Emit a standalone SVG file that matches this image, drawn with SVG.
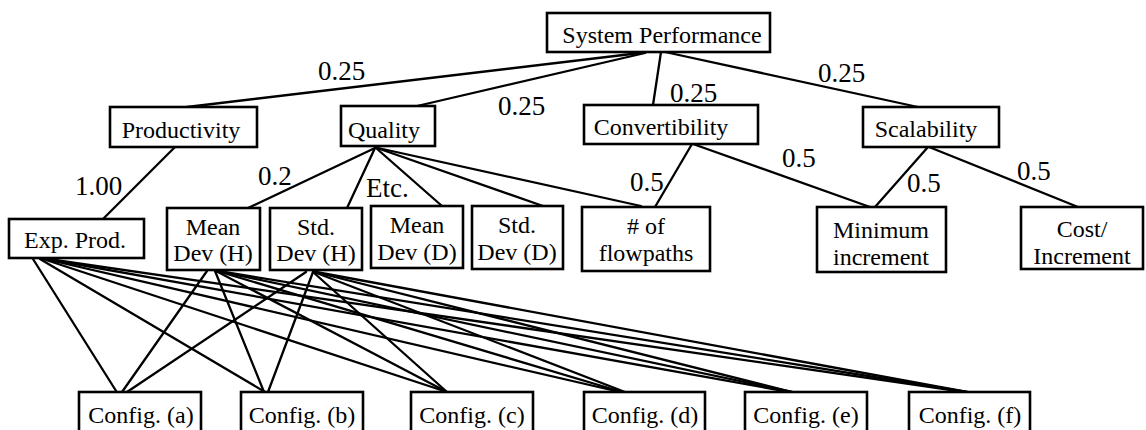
<svg xmlns="http://www.w3.org/2000/svg" width="1146" height="430" viewBox="0 0 1146 430">
<style>
.box{fill:#fff;stroke:#000;stroke-width:2.6}
.t{font-family:"Liberation Serif",serif;font-size:24px;fill:#000;text-anchor:middle}
.w{font-family:"Liberation Serif",serif;font-size:27px;fill:#000}
.c line{stroke:#000;stroke-width:2.3;stroke-linecap:round}
</style>
<rect width="1146" height="430" fill="#fff"/>
<g class="c" id="connectors">
<line x1="640" y1="53" x2="187" y2="107"/>
<line x1="645" y1="53" x2="417" y2="106"/>
<line x1="661" y1="52" x2="653" y2="105"/>
<line x1="665" y1="52" x2="918" y2="107"/>
<line x1="175" y1="147" x2="103" y2="219"/>
<line x1="375" y1="148" x2="248" y2="208"/>
<line x1="375" y1="148" x2="347" y2="208"/>
<line x1="376" y1="148" x2="442" y2="206"/>
<line x1="377" y1="148" x2="543" y2="206"/>
<line x1="378" y1="148" x2="641" y2="206"/>
<line x1="692" y1="144" x2="655" y2="207"/>
<line x1="693" y1="144" x2="870" y2="207"/>
<line x1="928" y1="147" x2="875" y2="207"/>
<line x1="929" y1="147" x2="1078" y2="207"/>
<line x1="33" y1="259" x2="118" y2="394"/>
<line x1="40" y1="259" x2="265" y2="392"/>
<line x1="43" y1="259" x2="447" y2="392"/>
<line x1="45" y1="259" x2="620" y2="392"/>
<line x1="47" y1="259" x2="790" y2="392"/>
<line x1="48" y1="259" x2="965" y2="392"/>
<line x1="207" y1="271" x2="122" y2="392"/>
<line x1="215" y1="271" x2="264" y2="392"/>
<line x1="216" y1="271" x2="447" y2="392"/>
<line x1="217" y1="271" x2="622" y2="392"/>
<line x1="218" y1="271" x2="792" y2="392"/>
<line x1="218" y1="271" x2="967" y2="392"/>
<line x1="306" y1="272" x2="127" y2="392"/>
<line x1="313" y1="272" x2="268" y2="392"/>
<line x1="313" y1="272" x2="447" y2="392"/>
<line x1="314" y1="272" x2="625" y2="392"/>
<line x1="315" y1="272" x2="792" y2="392"/>
<line x1="316" y1="272" x2="967" y2="392"/>
</g>
<g id="weights">
<text class="w" x="318" y="80">0.25</text>
<text class="w" x="498" y="115">0.25</text>
<text class="w" x="670" y="102">0.25</text>
<text class="w" x="818" y="82">0.25</text>
<text class="w" x="75" y="195">1.00</text>
<text class="w" x="258" y="185">0.2</text>
<text class="w" x="366" y="197">Etc.</text>
<text class="w" x="630" y="191">0.5</text>
<text class="w" x="782" y="167">0.5</text>
<text class="w" x="907" y="192">0.5</text>
<text class="w" x="1017" y="180">0.5</text>
</g>
<g id="system-performance"><rect class="box" x="547" y="13" width="223" height="39"/><text class="t" x="662" y="43">System Performance</text></g>
<g id="productivity"><rect class="box" x="110" y="107" width="147" height="40"/><text class="t" x="181" y="138">Productivity</text></g>
<g id="quality"><rect class="box" x="341" y="106" width="94" height="40"/><text class="t" x="384" y="138">Quality</text></g>
<g id="convertibility"><rect class="box" x="584" y="105" width="174" height="39"/><text class="t" x="661" y="135">Convertibility</text></g>
<g id="scalability"><rect class="box" x="863" y="107" width="136" height="40"/><text class="t" x="926" y="137">Scalability</text></g>
<g id="exp-prod"><rect class="box" x="9" y="219" width="135" height="39"/><text class="t" x="75" y="248">Exp. Prod.</text></g>
<g id="mean-dev-h"><rect class="box" x="167" y="208" width="93" height="62"/><text class="t" x="213" y="235">Mean</text><text class="t" x="213" y="261">Dev (H)</text></g>
<g id="std-dev-h"><rect class="box" x="270" y="208" width="92" height="62"/><text class="t" x="316" y="235">Std.</text><text class="t" x="316" y="261">Dev (H)</text></g>
<g id="mean-dev-d"><rect class="box" x="371" y="206" width="92" height="62"/><text class="t" x="417" y="233">Mean</text><text class="t" x="417" y="260">Dev (D)</text></g>
<g id="std-dev-d"><rect class="box" x="472" y="206" width="91" height="63"/><text class="t" x="517" y="233">Std.</text><text class="t" x="517" y="260">Dev (D)</text></g>
<g id="flowpaths"><rect class="box" x="582" y="207" width="128" height="64"/><text class="t" x="646" y="234"># of</text><text class="t" x="646" y="261">flowpaths</text></g>
<g id="minimum-increment"><rect class="box" x="817" y="207" width="129" height="65"/><text class="t" x="881" y="238">Minimum</text><text class="t" x="881" y="265">increment</text></g>
<g id="cost-increment"><rect class="box" x="1021" y="207" width="122" height="62"/><text class="t" x="1082" y="237">Cost/</text><text class="t" x="1082" y="264">Increment</text></g>
<g id="config-a"><rect class="box" x="79" y="392" width="122" height="48"/><text class="t" x="141" y="423">Config. (a)</text></g>
<g id="config-b"><rect class="box" x="241" y="392" width="122" height="48"/><text class="t" x="302" y="423">Config. (b)</text></g>
<g id="config-c"><rect class="box" x="411" y="392" width="122" height="48"/><text class="t" x="472" y="423">Config. (c)</text></g>
<g id="config-d"><rect class="box" x="584" y="392" width="121" height="48"/><text class="t" x="645" y="423">Config. (d)</text></g>
<g id="config-e"><rect class="box" x="745" y="392" width="122" height="48"/><text class="t" x="806" y="423">Config. (e)</text></g>
<g id="config-f"><rect class="box" x="909" y="392" width="121" height="48"/><text class="t" x="970" y="423">Config. (f)</text></g>
</svg>
